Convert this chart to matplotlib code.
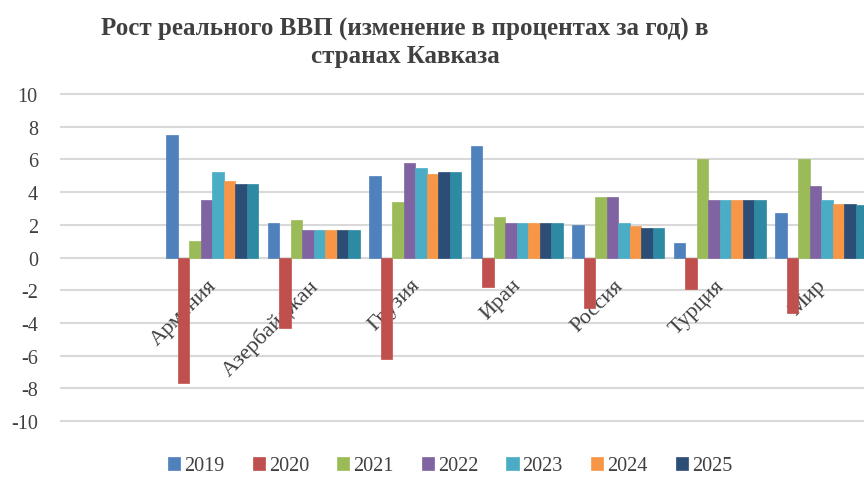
import matplotlib.pyplot as plt
import matplotlib.transforms as mtransforms
import numpy as np

countries = ["Армения", "Азербайджан", "Грузия", "Иран", "Россия", "Турция", "Мир"]
years = ["2019", "2020", "2021", "2022", "2023", "2024", "2025", ""]

# GDP growth, % per year (columns = countries)
gdp_2019 = [7.5, 2.1, 5.0, 6.8, 2.0, 0.9, 2.7]
gdp_2020 = [-7.7, -4.3, -6.2, -1.8, -3.1, -1.9, -3.4]
gdp_2021 = [1.0, 2.3, 3.4, 2.5, 3.7, 6.0, 6.0]
gdp_2022 = [3.5, 1.7, 5.8, 2.1, 3.7, 3.5, 4.4]
gdp_2023 = [5.2, 1.7, 5.5, 2.1, 2.1, 3.5, 3.5]
gdp_2024 = [4.7, 1.7, 5.1, 2.1, 1.9, 3.5, 3.3]
gdp_2025 = [4.5, 1.7, 5.2, 2.1, 1.8, 3.5, 3.3]
gdp_extra = [4.5, 1.7, 5.2, 2.1, 1.8, 3.5, 3.2]
series = [gdp_2019, gdp_2020, gdp_2021, gdp_2022, gdp_2023, gdp_2024, gdp_2025, gdp_extra]

colors = ["#4F81BD", "#C0504D", "#9BBB59", "#8064A2", "#4BACC6", "#F79646", "#2C4D75", "#2E8AA3"]

plt.rcParams['font.family'] = ['Liberation Serif', 'DejaVu Serif']
plt.rcParams['axes.unicode_minus'] = False

fig = plt.figure(figsize=(8.64, 4.81), dpi=100)
ax = fig.add_axes([60/864, 54/481, 804/864, 337/481])

x = np.arange(len(countries))
w = 0.113
bars = []
for k, vals in enumerate(series):
    b = ax.bar(x + (k - 3.5)*w, vals, w, color=colors[k], zorder=3,
               edgecolor=colors[k], linewidth=0.5)
    bars.append(b)

ax.set_xlim(-1.5, 6.42)
ax.set_ylim(-10.3, 10.3)
ax.set_yticks(np.arange(-10, 11, 2))
ax.yaxis.grid(True, color="#D9D9D9", linewidth=1.5, zorder=0)
ax.set_axisbelow(True)
ax.set_xticks([])
ax.tick_params(axis='y', length=0, pad=16, labelsize=14.5, labelcolor="#404040")
for s in ax.spines.values():
    s.set_visible(False)

# category labels sit under the zero line, rotated like in Excel
trans = mtransforms.offset_copy(ax.transData, fig=fig, x=-5, y=-18, units='dots')
for i, c in enumerate(countries):
    ax.text(i, 0, c, transform=trans, rotation=45, rotation_mode='anchor',
            ha='right', va='top', fontsize=16, color="#404040", zorder=1)

fig.text(405/864, 1 - 43/481,
         "Рост реального ВВП (изменение в процентах за год) в\nстранах Кавказа",
         ha='center', va='center', fontsize=18, fontweight='bold', color="#404040",
         linespacing=1.2)

fig.legend(bars[:7], years[:7], loc='center', bbox_to_anchor=(450/864, 1 - 467/481),
           ncol=7, frameon=False, fontsize=14.5, handlelength=0.6, handleheight=0.6,
           handletextpad=0.2, columnspacing=1.4, labelcolor="#404040")

fig.savefig("out.png", dpi=100)
